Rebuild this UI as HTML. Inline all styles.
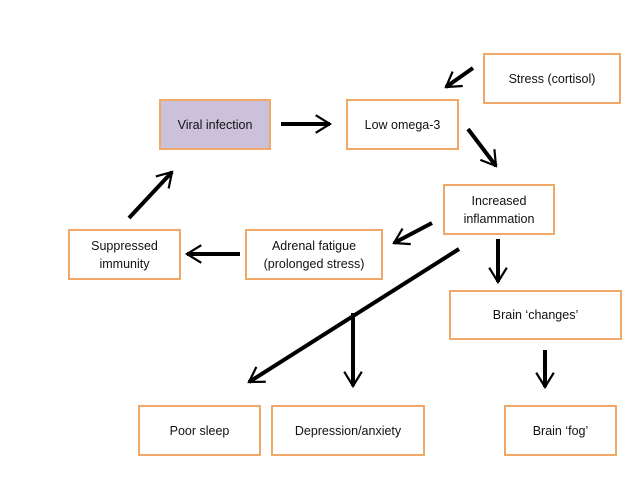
<!DOCTYPE html>
<html><head><style>
body{margin:0;background:#fff;}
.b{position:absolute;border:2px solid #f0a868;box-sizing:border-box;display:flex;align-items:center;justify-content:center;text-align:center;font-family:"Liberation Sans",sans-serif;font-size:12.5px;line-height:18px;color:#111;background:#fff;}
</style></head><body>
<div style="position:relative;width:638px;height:479px;overflow:hidden;">
<div class="b" style="left:483px;top:53px;width:138px;height:51px;">Stress (cortisol)</div>
<div class="b" style="left:159px;top:99px;width:112px;height:51px;background:#ccc1da;">Viral infection</div>
<div class="b" style="left:346px;top:99px;width:113px;height:51px;">Low omega-3</div>
<div class="b" style="left:443px;top:184px;width:112px;height:51px;">Increased<br>inflammation</div>
<div class="b" style="left:68px;top:229px;width:113px;height:51px;">Suppressed<br>immunity</div>
<div class="b" style="left:245px;top:229px;width:138px;height:51px;">Adrenal fatigue<br>(prolonged stress)</div>
<div class="b" style="left:449px;top:290px;width:173px;height:50px;">Brain ‘changes’</div>
<div class="b" style="left:138px;top:405px;width:123px;height:51px;">Poor sleep</div>
<div class="b" style="left:271px;top:405px;width:154px;height:51px;">Depression/anxiety</div>
<div class="b" style="left:504px;top:405px;width:113px;height:51px;">Brain ‘fog’</div>
<svg width="638" height="479" style="position:absolute;left:0;top:0" fill="none" stroke="#000" stroke-width="4">
<defs><marker id="a" viewBox="0 0 10 10" refX="8" refY="5" markerWidth="5.5" markerHeight="5.5" orient="auto" markerUnits="strokeWidth"><path d="M1.5,1 L8,5 L1.5,9" fill="none" stroke="#000" stroke-width="1"/></marker></defs>
<g marker-end="url(#a)">
<line x1="473" y1="68" x2="446" y2="87"/>
<line x1="281" y1="124" x2="330" y2="124"/>
<line x1="468" y1="129" x2="496" y2="166"/>
<line x1="432" y1="223" x2="394" y2="243"/>
<line x1="240" y1="254" x2="187" y2="254"/>
<line x1="129" y1="218" x2="172" y2="172"/>
<line x1="498" y1="239" x2="498" y2="282"/>
<line x1="459" y1="249" x2="249" y2="382"/>
<line x1="353" y1="313" x2="353" y2="386"/>
<line x1="545" y1="350" x2="545" y2="387"/>
</g>
</svg>
</div>
</body></html>
